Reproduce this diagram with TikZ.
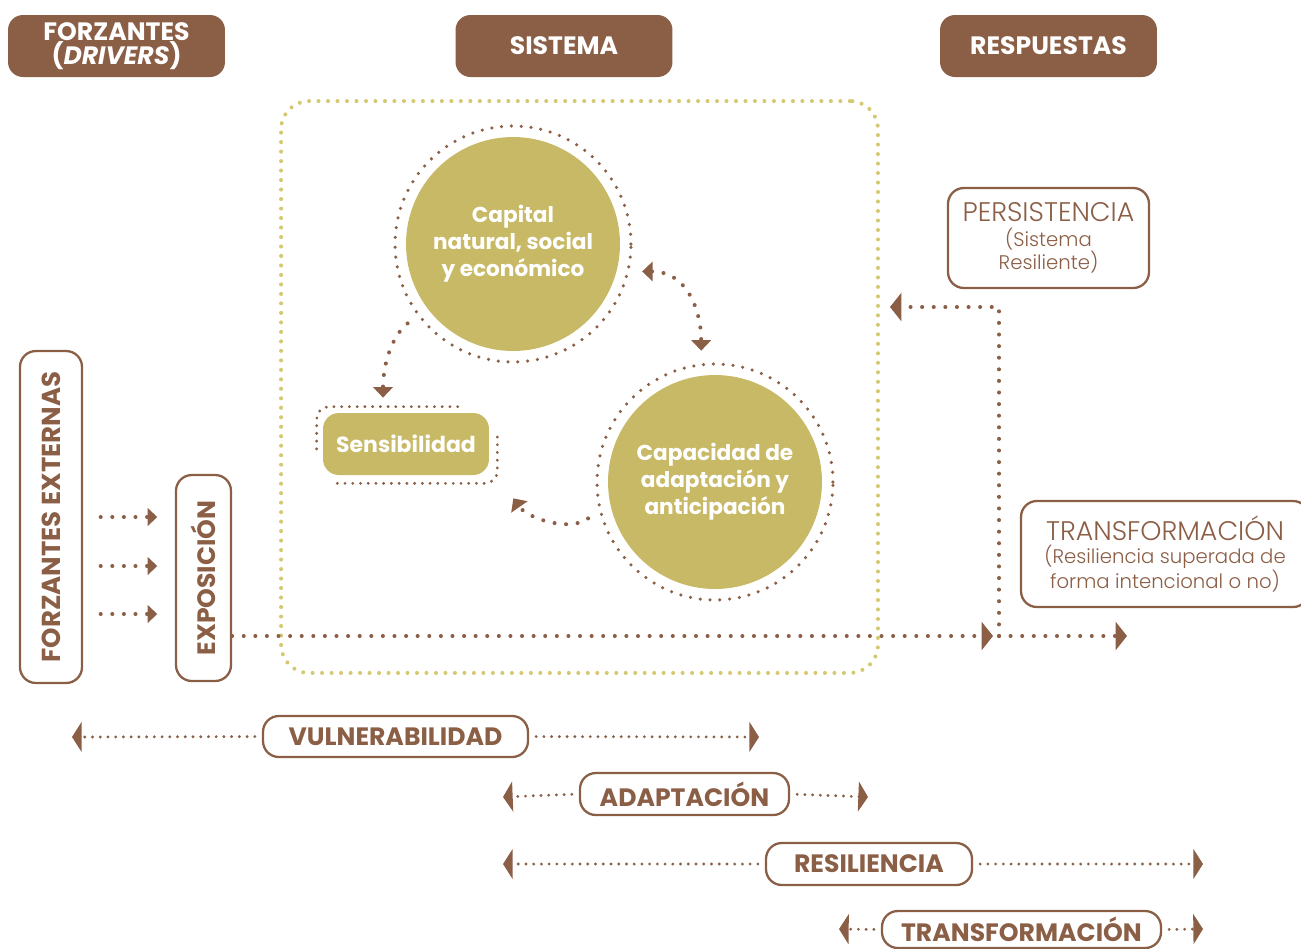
\documentclass[tikz,border=0pt]{standalone}
\usepackage{fontspec}
\setmainfont{Poppins}
\newfontfamily\lightfont{Poppins Light}
\usetikzlibrary{arrows.meta, calc, positioning}

\definecolor{cafe}{RGB}{139,94,70}
\definecolor{oliva}{RGB}{200,185,102}
\definecolor{olivaclara}{RGB}{212,200,115}

\newcommand{\subline}[1]{{\fontsize{11.2}{13}\selectfont #1}}

\begin{document}
\begin{tikzpicture}[x=0.02cm, y=-0.02cm, font=\fontsize{13}{15.5}\selectfont]
	\tikzstyle{head} = [fill=cafe, rounded corners=8.5pt, text=white, font=\fontsize{14.3}{14}\selectfont\bfseries, minimum width=4.34cm, minimum height=1.24cm, align=center, inner sep=0pt]
	\tikzstyle{outbox} = [draw=cafe, line width=1.3pt, rounded corners=9pt, text=cafe, align=center, inner sep=0pt, font=\lightfont]
	\tikzstyle{tag} = [outbox, font=\fontsize{14.3}{15}\selectfont\bfseries]
	\tikzstyle{bubble} = [circle, fill=oliva, text=white, font=\fontsize{12.3}{15.3}\selectfont\bfseries, align=center, minimum size=4.28cm, inner sep=0pt]
	\tikzstyle{ring} = [circle, draw=cafe, line width=2pt, line cap=round, dash pattern=on 0pt off 5.6pt, minimum size=4.72cm, outer sep=8pt]
	\tikzstyle{dots} = [draw=cafe, line width=2.3pt, line cap=round, dash pattern=on 0pt off 6.6pt]
	\tikzstyle{fine} = [draw=cafe, line width=1.8pt, line cap=round, dash pattern=on 0pt off 4.4pt]
	\tikzstyle{tipA} = [-{Triangle[length=6.5pt, width=16pt]}]
	\tikzstyle{tipS} = [-{Triangle[length=5.5pt, width=10pt]}]
	\tikzstyle{tipC} = [-{Triangle[length=6pt, width=11pt]}]
	\tikzstyle{tipB} = [-{Triangle[length=5.5pt, width=17pt]}]

	\useasboundingbox (0,0) rectangle (1301,948);

	% column heads
	\node[head] (drv) at (116.5,46) {FORZANTES\\(\textit{DRIVERS})};
	\node[head] (sys) at (564,46) {SISTEMA};
	\node[head] (rsp) at (1048.5,46) {RESPUESTAS};

	% system frame
	\node[draw=olivaclara, line width=2.3pt, line cap=round, dash pattern=on 0pt off 5.4pt, rounded corners=16pt, minimum width=11.94cm, minimum height=11.44cm] (frame) at (579.5,387) {};

	% capitals
	\node[bubble] (cap1) at (513,244) {Capital\\natural, social\\y económico};
	\node[ring] (cap1r) at (cap1) {};
	\node[bubble] (cap2) at (715,482) {Capacidad de\\adaptación y\\anticipación};
	\node[ring] (cap2r) at (cap2) {};
	\node[fill=oliva, rounded corners=9pt, text=white, font=\fontsize{12.5}{15}\selectfont\bfseries, minimum width=3.32cm, minimum height=1.24cm, inner sep=0pt] (sens) at (406,444) {Sensibilidad};
	\draw[fine, rounded corners=7pt] ($(sens.north west)+(135,-6)$) -| ($(sens.west)+(-6,8)$);
	\draw[fine, rounded corners=7pt] ($(sens.east)+(8,-7)$) |- ($(sens.south west)+(10,8)$);

	\draw[dots, tipC] (cap1r.217) .. controls +(-15,12) and +(0,-35) .. ($(sens.north)+(-23,-15)$);
	\draw[dots, tipC] (cap2r.196) .. controls +(-18,14) and +(14,20) .. ($(sens.south east)+(24,23)$);
	\draw[dots, {Triangle[length=6pt, width=11pt]}-{Triangle[length=6pt, width=11pt]}] (cap1r.-12) .. controls +(45,0) and +(0,-40) .. (cap2r.96);

	% drivers and exposure
	\node[tag, rotate=90, minimum width=6.64cm, minimum height=1.24cm, font=\fontsize{14.8}{15}\selectfont\bfseries] (fext) at (51,517) {FORZANTES EXTERNAS};
	\node[tag, rotate=90, minimum width=4.12cm, minimum height=1.1cm] (expo) at (203.5,578) {EXPOSICIÓN};
	\foreach \y in {517,566,614}
		\draw[dots, tipS, shorten <=10pt, shorten >=10pt] ($(fext.south)+(0,\y-517)$) -- ($(expo.north)+(0,\y-578)$);

	% responses
	\node[outbox, minimum width=4.02cm, minimum height=2cm] (pers) at (1048.5,238) {\fontsize{15.3}{15}\selectfont PERSISTENCIA\\[2pt]\subline{(Sistema}\\\subline{Resiliente)}};
	\node[outbox, minimum width=5.76cm, minimum height=2.12cm] (trans) at (1165,554) {\fontsize{15.3}{15}\selectfont TRANSFORMACIÓN\\[1pt]\subline{(Resiliencia superada de}\\\subline{forma intencional o no)}};

	\coordinate (fork) at (993,636);
	\coordinate (trend) at (1127,636);
	\coordinate (persend) at (890,307);
	\draw[dots, tipA] ($(expo.south)+(0,58)$) -- (fork);
	\draw[dots, tipA] ($(fork)+(6,0)$) -- (trend);
	\draw[dots, tipA] ($(fork)+(6,0)$) |- (persend);

	% bottom scale
	\node[tag, minimum width=5.3cm, minimum height=0.82cm] (vul) at (395.5,736.5) {VULNERABILIDAD};
	\node[tag, minimum width=4.18cm, minimum height=0.84cm] (adap) at (684.5,794) {ADAPTACIÓN};
	\node[tag, minimum width=4.12cm, minimum height=0.84cm] (resi) at (869,864) {RESILIENCIA};
	\node[tag, minimum width=5.58cm, minimum height=0.74cm] (trf) at (1021.5,929.5) {TRANSFORMACIÓN};

	\coordinate (vulL) at (72,737);   \coordinate (vulR) at (759,737);
	\coordinate (adapL) at (503,797); \coordinate (adapR) at (868,797);
	\coordinate (resiL) at (503,864); \coordinate (resiR) at (1203,864);
	\coordinate (trfL) at (839,929);  \coordinate (trfR) at (1203,929);
	\foreach \b in {vul,adap,resi,trf} {
		\draw[fine, tipB, shorten <=4pt] (\b.west) -- (\b L);
		\draw[fine, tipB, shorten <=4pt] (\b.east) -- (\b R);
	}
\end{tikzpicture}
\end{document}
